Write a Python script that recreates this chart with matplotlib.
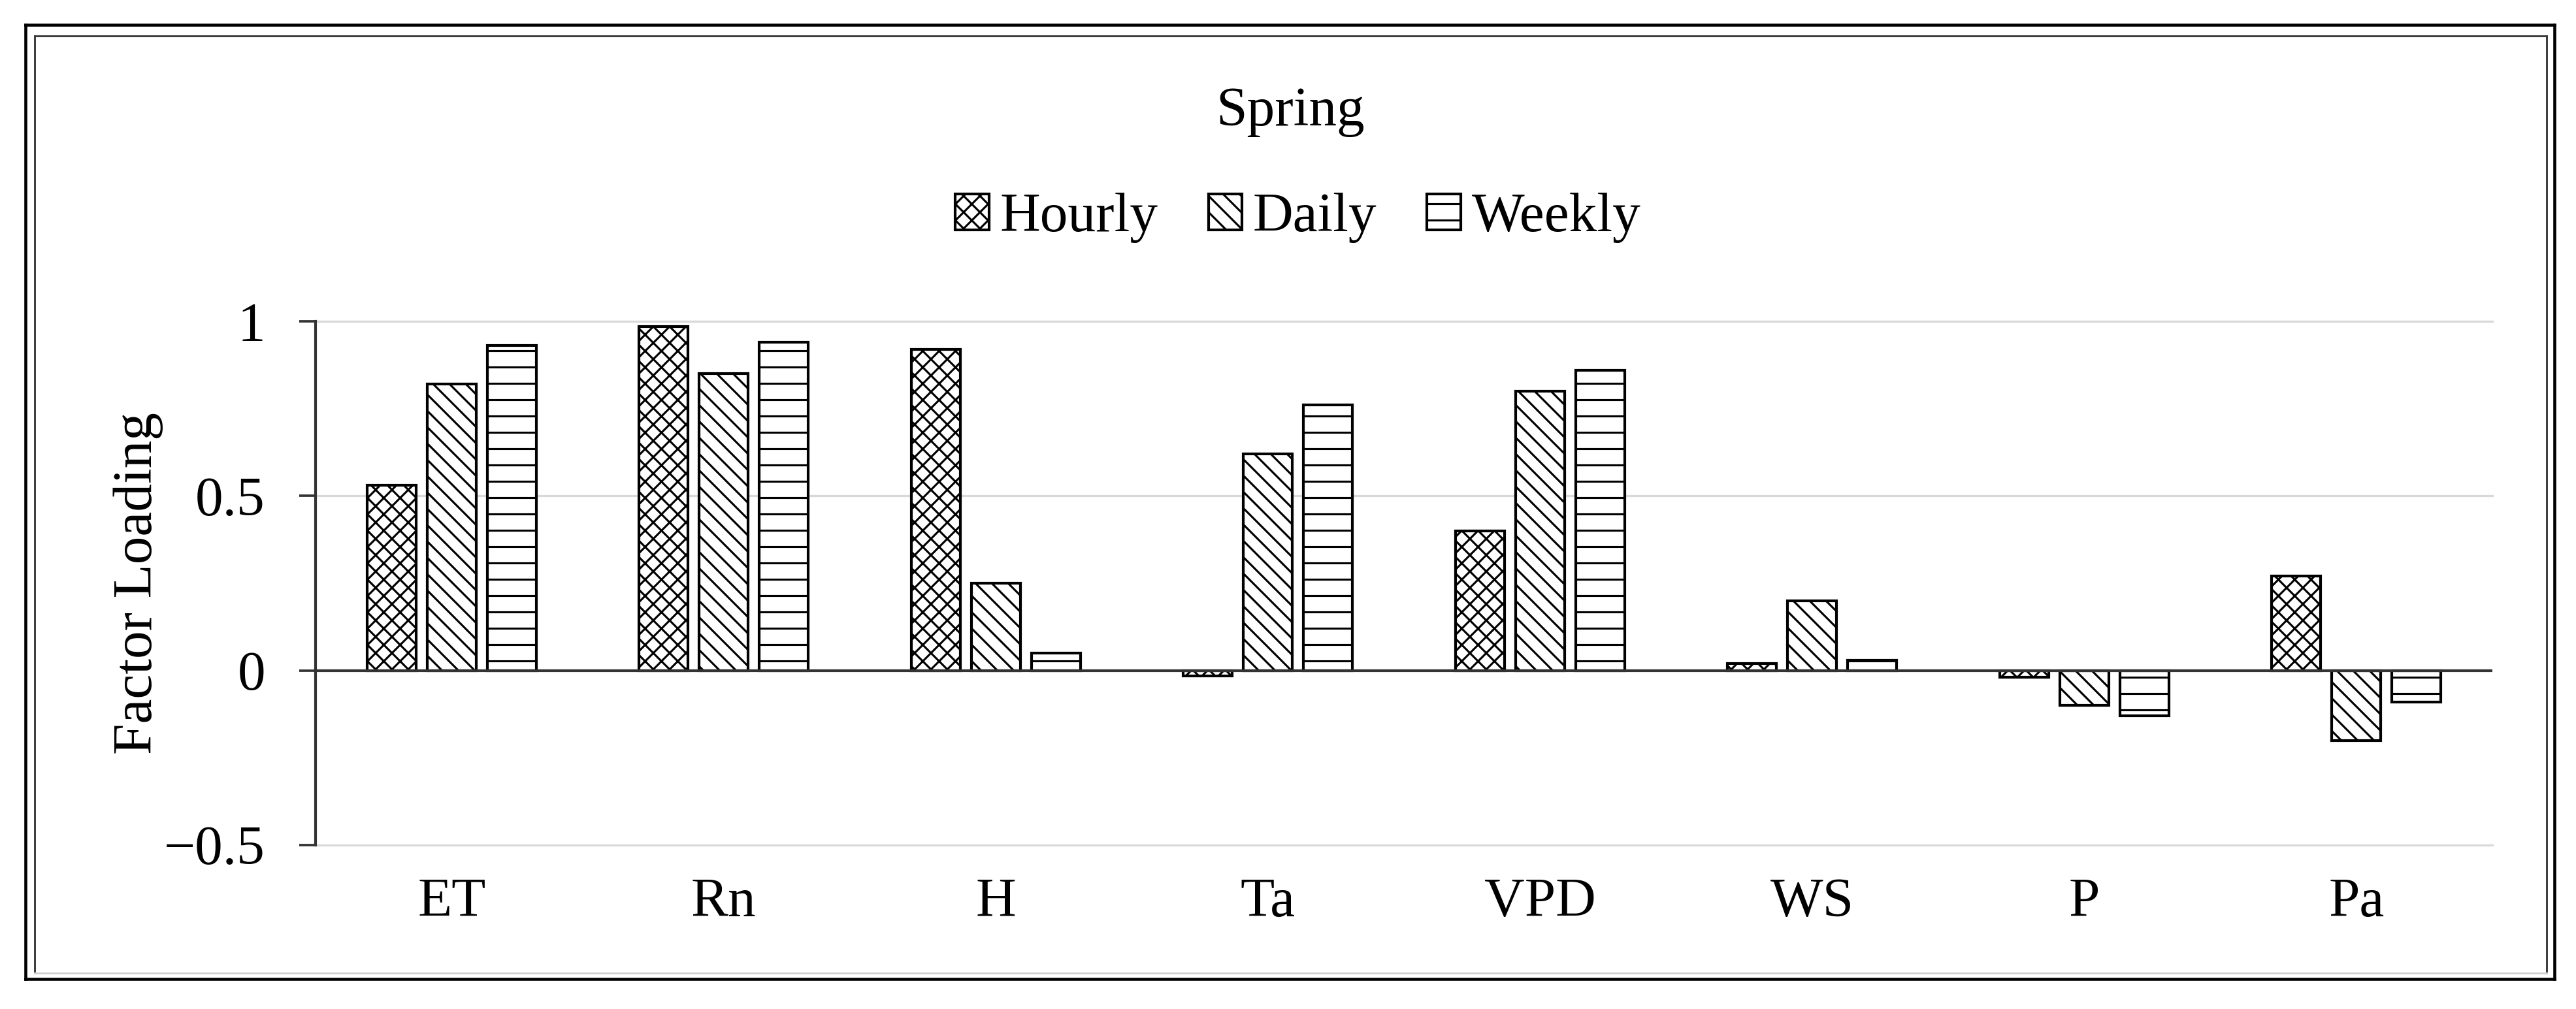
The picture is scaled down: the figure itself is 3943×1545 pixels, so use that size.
import matplotlib
matplotlib.use("Agg")
import matplotlib.pyplot as plt
from matplotlib.lines import Line2D
import numpy as np

categories = ["ET", "Rn", "H", "Ta", "VPD", "WS", "P", "Pa"]
hourly = [0.53, 0.985, 0.92, -0.015, 0.40, 0.02, -0.02, 0.27]
daily = [0.82, 0.85, 0.25, 0.62, 0.80, 0.20, -0.10, -0.20]
weekly = [0.93, 0.94, 0.05, 0.76, 0.86, 0.03, -0.13, -0.09]
series_names = ["Hourly", "Daily", "Weekly"]
yticks = [-0.5, 0, 0.5, 1]
ytick_labels = ["\u22120.5", "0", "0.5", "1"]

plt.rcParams["font.family"] = ["Liberation Serif", "DejaVu Serif"]
plt.rcParams["hatch.linewidth"] = 1.5
plt.rcParams["hatch.color"] = "black"

W, H, DPI = 3943, 1545, 150
fig = plt.figure(figsize=(W / DPI, H / DPI), dpi=DPI)
fig.patch.set_facecolor("white")

ax = fig.add_axes([483 / W, 1 - 1294 / H, (3815 - 483) / W, (1294 - 492) / H])
ax.set_facecolor("white")

x = np.arange(len(categories))
bw = 0.18
step = 0.221
hatches = ["xx", "\\\\", "-"]
handles = []
for i, (vals, name, hat) in enumerate(zip([hourly, daily, weekly], series_names, hatches)):
    b = ax.bar(x + (i - 1) * step, vals, width=bw, color="white", edgecolor="black",
               hatch=hat, linewidth=2.0, label=name, zorder=3)
    handles.append(b)

ax.set_xlim(-0.5, len(categories) - 0.5)
ax.set_ylim(-0.5, 1.0)
ax.set_yticks(yticks)
ax.set_yticklabels(ytick_labels)
ax.set_xticks(x)
ax.set_xticklabels(categories)

for yv in [1.0, 0.5, -0.5]:
    ax.axhline(yv, color="#d9d9d9", lw=1.6, zorder=1, clip_on=False)
ax.axhline(0, color="#333333", lw=2.0, zorder=4)

for s in ["top", "right", "bottom"]:
    ax.spines[s].set_visible(False)
ax.spines["left"].set_color("#333333")
ax.spines["left"].set_linewidth(2.0)

ax.tick_params(axis="y", length=12, width=1.8, color="#333333", pad=25, labelsize=41)
ax.tick_params(axis="x", length=0, pad=24, labelsize=41)

ax.set_ylabel("Factor Loading", fontsize=41, va="center")
ax.yaxis.set_label_coords((211 - 483) / (3815 - 483), 0.5)

fig.text(1975 / W, 1 - 171 / H, "Spring", ha="center", va="center", fontsize=41)

fig.legend(handles=handles, labels=series_names, loc="center",
           bbox_to_anchor=(1987 / W, 1 - 334 / H), ncol=3, frameon=False,
           fontsize=41, handlelength=0.6, handleheight=0.6, handletextpad=0.2,
           columnspacing=0.9)

# outer and inner borders
def fline(x0, y0, x1, y1, color, lw):
    fig.add_artist(Line2D([x0 / W, x1 / W], [1 - y0 / H, 1 - y1 / H],
                          transform=fig.transFigure, color=color, lw=lw))

fline(39, 38, 3910, 38, "black", 2.2)
fline(39, 1499, 3910, 1499, "black", 2.2)
fline(39, 38, 39, 1499, "black", 2.2)
fline(3910, 38, 3910, 1499, "black", 2.2)

fline(53, 55, 3898, 55, "#3a3a3a", 1.4)
fline(53, 55, 53, 1490, "#3a3a3a", 1.4)
fline(3898, 55, 3898, 1490, "#3a3a3a", 1.4)
fline(53, 1490, 3898, 1490, "#d0d0d0", 1.4)

fig.savefig("out.png", dpi=DPI, facecolor="white")
